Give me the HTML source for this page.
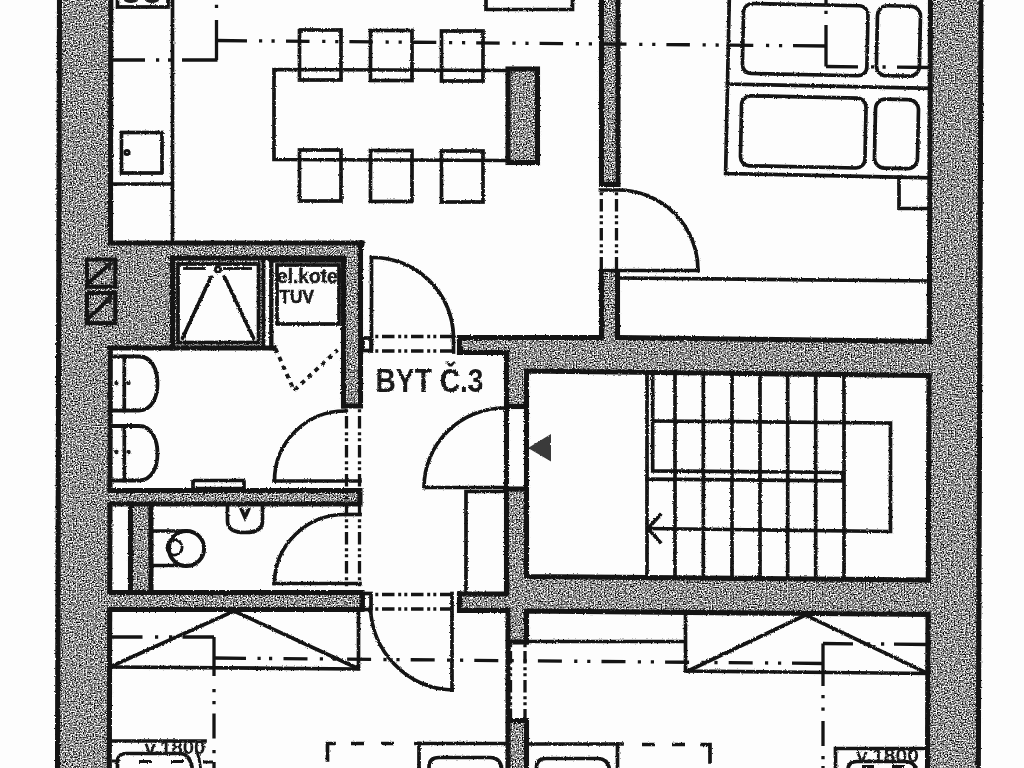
<!DOCTYPE html>
<html>
<head>
<meta charset="utf-8">
<title>BYT Č.3</title>
<style>
html,body{margin:0;padding:0;background:#fdfdfd;overflow:hidden;}
body{width:1024px;height:768px;font-family:"Liberation Sans",sans-serif;}
svg{display:block;}
.w{fill:#8c8c8c;stroke:none;}
.e{fill:none;stroke:#141414;stroke-width:5.1;stroke-linecap:square;stroke-linejoin:miter;}
.l{fill:none;stroke:#141414;stroke-width:3.7;stroke-linecap:square;stroke-linejoin:miter;}
.t{fill:none;stroke:#141414;stroke-width:2.8;stroke-linecap:butt;}
.d{fill:none;stroke:#141414;stroke-width:3.3;}
.dd{fill:none;stroke:#141414;stroke-width:3.3;stroke-dasharray:12.5 3.7 3 3.1 3 3.7;stroke-dashoffset:21;}
.dash{fill:none;stroke:#141414;stroke-width:3.7;stroke-dasharray:13 17;}
.dot{fill:none;stroke:#181818;stroke-width:3.9;stroke-dasharray:4.6 4.7;stroke-linecap:butt;}
.k{fill:#1e1e1e;stroke:none;}
text{font-family:"Liberation Sans",sans-serif;font-weight:bold;fill:#1a1a1a;}
</style>
</head>
<body>
<svg width="1024" height="768" viewBox="0 0 1024 768">
<defs>
<filter id="nz" x="0" y="0" width="1024" height="768" filterUnits="userSpaceOnUse" color-interpolation-filters="sRGB">
  <feTurbulence type="fractalNoise" baseFrequency="0.72" numOctaves="1" seed="11" result="t"/>
  <feColorMatrix in="t" type="matrix" values="2 2 0 0 -1.43  2 2 0 0 -1.43  2 2 0 0 -1.43  0 0 0 0 1" result="g"/>
  <feGaussianBlur in="g" stdDeviation="0.3" result="gb"/>
  <feComposite in="gb" in2="SourceAlpha" operator="in"/>
</filter>
<filter id="soft" x="0" y="0" width="1024" height="768" filterUnits="userSpaceOnUse" color-interpolation-filters="sRGB">
  <feTurbulence type="fractalNoise" baseFrequency="0.6" numOctaves="2" seed="5" result="r"/>
  <feDisplacementMap in="SourceGraphic" in2="r" scale="2.6" xChannelSelector="R" yChannelSelector="G" result="dsp"/>
  <feGaussianBlur in="dsp" stdDeviation="0.55"/>
</filter>
<filter id="soft2" x="0" y="0" width="1024" height="768" filterUnits="userSpaceOnUse" color-interpolation-filters="sRGB">
  <feTurbulence type="fractalNoise" baseFrequency="0.6" numOctaves="2" seed="9" result="r"/>
  <feDisplacementMap in="SourceGraphic" in2="r" scale="1.2" xChannelSelector="R" yChannelSelector="G" result="dsp"/>
  <feGaussianBlur in="dsp" stdDeviation="0.5"/>
</filter>
</defs>
<rect x="0" y="0" width="1024" height="768" fill="#fdfdfd"/>

<!-- WALL FILLS -->
<g id="walls" class="w" filter="url(#nz)">
  <!-- left outer wall -->
  <polygon points="58,0 112,0 110,768 56,768"/>
  <!-- right outer wall -->
  <polygon points="929,0 983,0 980,768 927,768"/>
  <!-- bath top wall + block -->
  <rect x="110" y="242" width="252" height="16"/>
  <rect x="110" y="242" width="64" height="106"/>
  <rect x="173" y="258" width="90" height="89"/>
  <rect x="342" y="242" width="20" height="165"/>
  <!-- wall right of entry door + vertical -->
  <rect x="458" y="337" width="70" height="16"/>
  <rect x="506" y="337" width="20" height="70"/>
  <!-- stair top wall -->
  <polygon points="506,337 600,337 929,341 929,376 525,371 506,371"/>
  <!-- partition kitchen/bedroom -->
  <rect x="600" y="0" width="19" height="185"/>
  <rect x="600" y="271" width="18" height="68"/>
  <!-- chimney block -->
  <rect x="506" y="68" width="33" height="96"/>
  <!-- bath/wc wall -->
  <rect x="110" y="489" width="251" height="16"/>
  <rect x="129" y="489" width="23" height="105"/>
  <!-- wc bottom wall -->
  <rect x="110" y="592" width="253" height="18"/>
  <!-- wall right of lower door -->
  <rect x="458" y="593" width="70" height="18"/>
  <!-- stairs left wall lower -->
  <rect x="506" y="489" width="20" height="153"/>
  <rect x="506" y="720" width="20" height="48"/>
  <!-- stair bottom wall -->
  <polygon points="506,576 526,576 928,580 928,614 526,610 506,610"/>
</g>

<g id="ink" filter="url(#soft)">

<!-- ===== WALL EDGES (thick) ===== -->
<g class="e">
  <!-- left outer wall -->
  <line x1="59.5" y1="-5" x2="57.5" y2="773"/>
  <polyline points="110.8,-5 110.5,243 362,243"/>
  <line x1="110.3" y1="348" x2="110" y2="489"/>
  <line x1="110" y1="505" x2="109.8" y2="592"/>
  <line x1="109.7" y1="610" x2="109.3" y2="773"/>
  <!-- right outer wall -->
  <line x1="981" y1="-5" x2="978.3" y2="773"/>
  <line x1="930.5" y1="-5" x2="929.3" y2="341"/>
  <line x1="929" y1="376" x2="928.3" y2="580"/>
  <line x1="928" y1="614" x2="927.5" y2="773"/>
  <!-- bath top wall block -->
  <polyline points="360.5,243 360.5,406 344,406"/>
  <polyline points="172.5,258 343.5,258 343.5,406"/>
  <line x1="272" y1="260" x2="344" y2="260" stroke-width="5.5"/>
  <polyline points="110.5,348 274,348"/>
  <line x1="172.5" y1="258" x2="172.5" y2="348"/>
  <!-- wall right of entry door / hall right wall / stair top wall -->
  <polyline points="459.5,352.5 459.5,337.5 600,337.5"/>
  <polyline points="618,337.5 929.5,341.5"/>
  <polyline points="459.5,352.5 506.5,352.5 506.5,593"/>
  <polyline points="929,375.5 526.5,371 526.5,576.5 928.5,580"/>
  <line x1="507" y1="406.5" x2="526" y2="406.5"/>
  <line x1="507" y1="489" x2="526" y2="489"/>
  <!-- partition kitchen/bedroom -->
  <polyline points="601.5,-5 601.5,184.5 618,184.5 618,-5"/>
  <polyline points="601.5,337 601.5,272"/>
  <polyline points="617.5,272 617.5,337"/>
  <!-- chimney block -->
  <rect x="508" y="69" width="29.5" height="93.5"/>
  <!-- bath / wc wall -->
  <polyline points="110,490.5 360,490.5 360,504 110,504"/>
  <line x1="130.5" y1="504" x2="130.5" y2="592"/>
  <line x1="151" y1="504" x2="151" y2="592"/>
  <!-- wc bottom wall -->
  <polyline points="110,592.5 362,592.5 362,609.5 110,609.5"/>
  <!-- wall right of lower door + stair bottom wall -->
  <polyline points="459.5,594 506,594"/>
  <polyline points="526.5,642 526.5,611 928,614.5"/>
  <polyline points="459.5,594 459.5,610.5 508,610.5 508,773"/>
  <line x1="509" y1="642" x2="526" y2="642"/>
  <polyline points="509,720.5 526.5,720.5 526.5,773"/>
</g>

<!-- ===== REGULAR LINES ===== -->
<g class="l">
  <!-- kitchen counter -->
  <line x1="172.5" y1="-5" x2="172.5" y2="243"/>
  <rect x="117.5" y="-10" width="50.5" height="17"/>
  <rect x="121.5" y="132.5" width="40.5" height="40.5"/>
  <line x1="112" y1="184" x2="172" y2="184"/>
  <!-- table & chairs -->
  <polyline points="507,70.5 274,69.5 274,159.5 507,160.5"/>
  <rect x="299.5" y="30" width="41.5" height="50"/>
  <rect x="370.5" y="30.5" width="41.5" height="50"/>
  <rect x="441.5" y="31" width="41.5" height="50"/>
  <rect x="299.5" y="150" width="41.5" height="51"/>
  <rect x="370.5" y="150.5" width="41.5" height="51"/>
  <rect x="441.5" y="151" width="41.5" height="51"/>
  <!-- top centre rect -->
  <polyline points="486,-5 486,9.5 572.5,9.5 572.5,-5"/>
  <!-- bedroom wardrobe line -->
  <line x1="618" y1="278" x2="929" y2="281"/>
  <!-- door 2 leaf -->
  <line x1="601" y1="270.5" x2="698" y2="270.5"/>
  <!-- bed -->
  <g transform="rotate(1.2 727 84)">
    <polyline points="727.5,-12 727.5,173.5 931,173.5"/>
    <line x1="727.5" y1="84" x2="931" y2="84"/>
    <rect x="742" y="3" width="124.5" height="70" rx="9" ry="9"/>
    <rect x="876" y="2.4" width="43" height="70" rx="10" ry="10"/>
    <rect x="742" y="95.3" width="124.5" height="70" rx="9" ry="9"/>
    <rect x="876" y="95.8" width="43" height="69" rx="10" ry="10"/>
  </g>
  <polyline points="899,177 899,208.5 929,208.5"/>
  <!-- shower tray -->
  <rect x="178" y="264" width="80.5" height="78.5" fill="#fdfdfd"/>
  <line x1="263.500" y1="258" x2="263.500" y2="348" stroke-width="3.8"/>
  <line x1="271.300" y1="258" x2="271.300" y2="348" stroke-width="4.4"/>
  <line x1="211" y1="277" x2="182.5" y2="338"/>
  <line x1="224.5" y1="277" x2="253.5" y2="338"/>
  <!-- boiler -->
  <rect x="277" y="265" width="62" height="59"/>
  <!-- vent boxes -->
  <rect x="87" y="259.5" width="28.3" height="27.2" stroke-width="4.2"/>
  <rect x="87" y="293" width="28.3" height="30.2" stroke-width="4.2"/>
  <polyline points="89.5,282 110.5,263.5" stroke-width="3.8"/>
  <polyline points="89.5,317.5 110.5,297.5" stroke-width="3.8"/>
  <!-- entry door 1 -->
  <line x1="371.5" y1="257.5" x2="371.5" y2="351"/>
  <path d="M371.5,257.5 A81,80.5 0 0 1 453.5,337"/>
  <rect x="363" y="338" width="8" height="12.5"/>
  <line x1="453.5" y1="337" x2="453.5" y2="352"/>
  <!-- hall door (stairs) -->
  <line x1="424" y1="487.500" x2="506" y2="487.500"/>
  <path d="M424,487.500 A81,79.500 0 0 1 505,408"/>
  <polyline points="466,593 466,491.5 506,491.5"/>
  <!-- stairs -->
  <line x1="647" y1="373" x2="647" y2="576"/>
  <polyline points="652.700,373 652.700,470.800 843,472.500 843,480.800 647,479.200"/>
  <line x1="675" y1="373" x2="675" y2="576"/>
  <line x1="703.3" y1="373" x2="703.3" y2="577"/>
  <line x1="732" y1="373" x2="732" y2="577"/>
  <line x1="760" y1="374" x2="760" y2="577"/>
  <line x1="787.7" y1="374" x2="787.7" y2="578"/>
  <line x1="815.7" y1="374" x2="815.7" y2="578"/>
  <line x1="844" y1="375" x2="844" y2="578"/>
  <polyline points="653,421 890.5,423 890.5,531.5 648,528.5"/>
  <polyline points="660,515 648,528.5 660,542"/>
  <!-- bath sinks -->
  <path stroke-width="3.8" d="M112,356.5 H139 C152,356.5 157.5,370 157.5,383.5 C157.5,397 152,410.5 139,410.5 H112"/>
  <line x1="124.3" y1="356.5" x2="124.3" y2="410.5"/>
  <path stroke-width="3.8" d="M112,426 H139 C152,426 157.5,440 157.5,453.5 C157.5,467 152,480.5 139,480.5 H112"/>
  <line x1="124.3" y1="426" x2="124.3" y2="480.5"/>
  <!-- shelf -->
  <rect x="193" y="480.5" width="51" height="8" rx="1"/>
  <!-- bath door -->
  <line x1="274" y1="481" x2="360" y2="481"/>
  <path d="M274.5,481 A70.5,70 0 0 1 345,411"/>
  <!-- wc door -->
  <line x1="274" y1="583.5" x2="360" y2="583.5"/>
  <path d="M274.5,583.5 A70.5,69 0 0 1 345,514.5"/>
  <line x1="346" y1="514.5" x2="360" y2="514.5"/>
  <!-- toilet -->
  <line x1="152" y1="531" x2="186" y2="531"/>
  <line x1="152" y1="565.5" x2="186" y2="565.5"/>
  <circle cx="186.5" cy="548.5" r="17.6" stroke-width="4"/>
  <circle cx="174.5" cy="547.5" r="7.6" stroke-width="2.8"/>
  <!-- wc sink -->
  <path d="M227.5,505 V521 C227.5,529 234,532.5 245,532.5 C256,532.5 262.5,529 262.5,521 V505"/>
  <polyline points="241.5,509.5 245,517.5 248.5,509.5"/>
  <!-- lower door -->
  <rect x="363" y="593.5" width="8" height="16"/>
  <polyline points="452,593.5 452,690"/>
  <path d="M370.5,608 C372,650 405,688 452,690"/>
  <!-- lower-left wardrobe -->
  <polyline points="112,667 358.5,669 358.5,610"/>
  <polyline points="112,666 234,611 358,668.5"/>
  <!-- lower-right room -->
  <line x1="527" y1="641.5" x2="685" y2="641.5"/>
  <polyline points="685.5,612 685.5,671 928,673.5"/>
  <polyline points="688,671 805.5,615 926,672.5"/>
  <!-- bottom-left bed -->
  <line x1="112" y1="741" x2="205" y2="741"/>
  <path d="M117.500,773 V762 Q117.500,753.500 126,753.500 H180 Q191,753.500 193,773"/>
  <!-- bottom centre-left -->
  <polyline points="327.5,760 327.5,743.5 334,743.5"/>
  <polyline points="416,743.5 506,743.5"/>
  <line x1="419" y1="743.500" x2="419" y2="773"/>
  <path d="M429,773 V767 Q429,757.500 439,757.500 H490 Q502,757.500 502,773"/>
  <!-- bottom centre-right -->
  <line x1="527" y1="744" x2="622" y2="744"/>
  <line x1="617.5" y1="744" x2="617.5" y2="773"/>
  <path d="M536.500,773 V768 Q536.500,758.500 546,758.500 H598 Q609,758.500 610,773"/>
  <polyline points="702,744.5 710,744.5 710,762"/>
  <!-- bottom right -->
  <polyline points="835.5,773 835.5,748.5 928,748.5"/>
  <path d="M848,773 V770 Q848,761.500 857,761.500 H905 Q916,761.500 917,773"/>
</g>

<!-- dashed bits -->
<g class="t">
  <path d="M139,761.500 h13 M171,761.500 h13 M203,762 h10 M112,761 h7"/>
  <path d="M196,750 Q200,758 201,773"/>
  <path d="M862,766.500 h12 M892,766.500 h12"/>
</g>
<g class="dash">
  <line x1="351" y1="743.5" x2="400" y2="743.5"/>
  <line x1="642" y1="744.5" x2="690" y2="744.5"/>
</g>
<g class="dot">
  <polyline points="275.500,348.500 294,390.500 337.500,350"/>
</g>

</g>
<g id="dashdot" filter="url(#soft2)">
<!-- ===== DASH-DOT THIN LINES ===== -->
<g class="d">
  <!-- kitchen y=60 -->
  <path d="M112,60 H145 M156,60 h3.2 M168,60 h3.2 M182,60 H217.500"/>
  <path d="M216.500,60 V20 M216.500,8 v-3.2"/>
  <path d="M216.500,40.500 L247,40.800 M259,40.900 h3.2 M271.500,41 h3.2"/>
  <line x1="286" y1="41.100" x2="793" y2="45.700" stroke-dasharray="23.5 12.7 3.2 9.8 3.2 11"/>
  <line x1="793" y1="45.700" x2="826" y2="46"/>
  <path d="M826,66.500 V25 M826,14 v-3.2 M826,4 V-3"/>
  <path d="M826,66.500 L858,66.800 M871,66.900 h3.2 M882.500,67 h3.2 M897,67.200 L929,67.500"/>
  <!-- lower-left -->
  <path d="M112,637 H142.500 M155,637 h3.2 M169,637 h3.2 M182.500,637 H214"/>
  <path d="M214,637 V676 M214,689 v3.2 M214,701 v3.2 M214,713.500 V738.500 M214,750 v3.2 M214,762 V773"/>
  <path d="M214,658 L246,658.300 M257.500,658.400 h3.2 M269,658.500 h3.2"/>
  <line x1="283.500" y1="658.600" x2="792" y2="663.200" stroke-dasharray="24 12.3 3.2 9.8 3.2 11.1"/>
  <line x1="792" y1="663.200" x2="823" y2="663.500"/>
  <path d="M823,643.500 V686 M823,695 v3.2 M823,707.500 v3.2 M823,721 V746 M823,756 v3.2 M823,766 v6"/>
  <path d="M823,643.500 L853,643.800 M867,643.900 h3.2 M881,644 h3.2 M894,644.200 L928,644.500"/>
</g>
<g class="dd">
  <line x1="374" y1="336.500" x2="452" y2="336.500"/>
  <line x1="374" y1="351" x2="452" y2="351"/>
  <line x1="601.300" y1="191" x2="601.300" y2="270"/>
  <line x1="616.500" y1="191" x2="616.500" y2="270"/>
  <line x1="346.500" y1="408" x2="346.500" y2="592"/>
  <line x1="359.500" y1="408" x2="359.500" y2="592"/>
  <line x1="374" y1="594.500" x2="451" y2="594.500"/>
  <line x1="374" y1="609" x2="451" y2="609"/>
  <line x1="510.500" y1="643" x2="510.500" y2="720"/>
  <line x1="525" y1="643" x2="525" y2="720"/>
</g>
</g>
<g id="ink2" filter="url(#soft)">
<!-- door 2 arc -->
<path class="l" d="M600.5,190 H618 A80,80 0 0 1 698,270.500"/>
<!-- shower head -->
<g class="t">
  <line x1="183" y1="268.500" x2="206" y2="268.500"/>
  <line x1="223" y1="268.500" x2="252" y2="268.500"/>
  <circle cx="218" cy="269.500" r="2.600"/>
  <circle cx="127" cy="152.500" r="2.200"/>
</g>
<!-- filled bits -->
<g class="k">
  <polygon points="528,448 551,434 551,461.5" fill="#3a3a3a"/>
  <ellipse cx="131" cy="0" rx="7" ry="3"/>
  <ellipse cx="152" cy="0" rx="7" ry="3"/>
  <circle cx="116.500" cy="383" r="2.200"/>
  <circle cx="128.500" cy="383" r="2.200"/>
  <circle cx="116.500" cy="452" r="2.200"/>
  <circle cx="128.500" cy="452" r="2.200"/>
  <polygon points="112.500,261.500 103.500,264 110.500,271"/>
  <polygon points="112.500,295.500 103.500,298 110.500,305"/>
</g>
<!-- text -->
<text x="375.500" y="391.700" font-size="33.500" textLength="108" lengthAdjust="spacingAndGlyphs">BYT Č.3</text>
<text x="277" y="282.500" font-size="20" textLength="66" lengthAdjust="spacingAndGlyphs" stroke="#1a1a1a" stroke-width="0.5">el.kotel</text>
<text x="279.500" y="303" font-size="18.500" textLength="34.500" lengthAdjust="spacingAndGlyphs" stroke="#1a1a1a" stroke-width="0.5">TUV</text>
<text x="144.500" y="753.800" font-size="17.5" textLength="61" lengthAdjust="spacingAndGlyphs">v.1800</text>
<text x="856" y="761.500" font-size="17.5" textLength="63" lengthAdjust="spacingAndGlyphs">v.1800</text>
</g>
</svg>
</body>
</html>
